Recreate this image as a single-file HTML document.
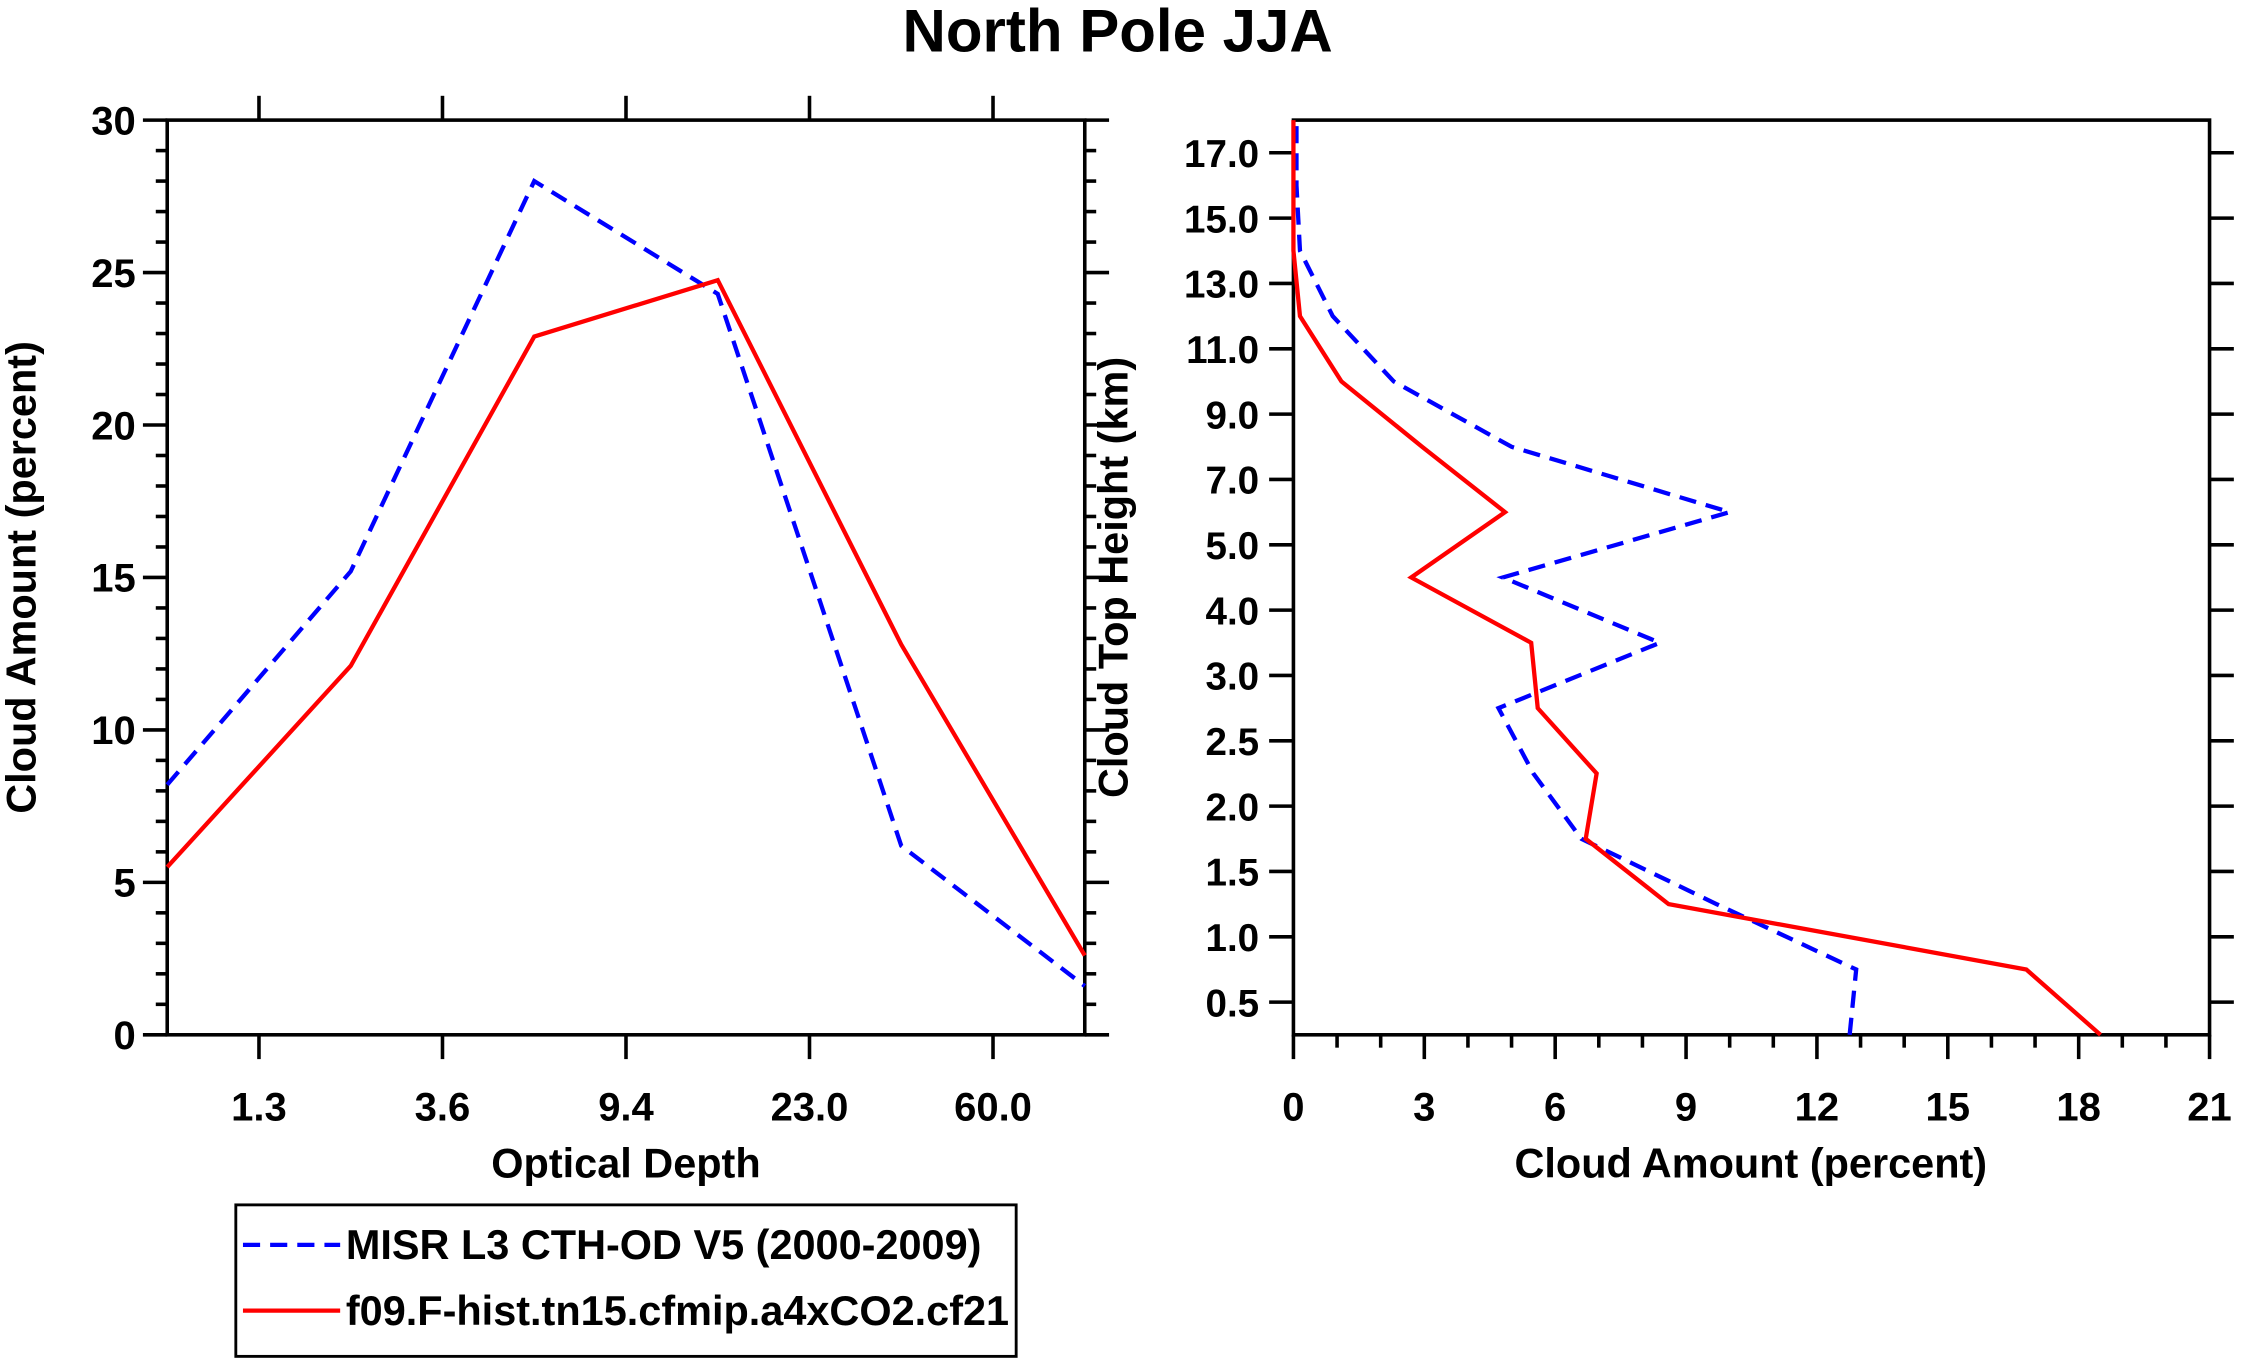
<!DOCTYPE html>
<html><head><meta charset="utf-8"><style>html,body{margin:0;padding:0;background:#fff}svg{display:block}text{font-family:"Liberation Sans",Arial,sans-serif;font-weight:bold;fill:#000}</style></head>
<body>
<svg id="chart" width="2241" height="1365" viewBox="0 0 1568 955" xmlns="http://www.w3.org/2000/svg">
<text x="782" y="36" font-size="42" text-anchor="middle">North Pole JJA</text>
<g id="left"></g><g id="right"></g>
<g>
<rect x="165" y="843" width="546" height="106" fill="none" stroke="#000" stroke-width="2"/>
<line x1="170" y1="871" x2="238" y2="871" stroke="#00f" stroke-width="3" stroke-dasharray="12,7"/>
<text x="242" y="881" font-size="29">MISR L3 CTH-OD V5 (2000-2009)</text>
<line x1="170" y1="917" x2="238" y2="917" stroke="#f00" stroke-width="3"/>
<text x="242" y="927" font-size="29">f09.F-hist.tn15.cfmip.a4xCO2.cf21</text>
</g>
</svg>
<script>
const odLabels=["1.3","3.6","9.4","23.0","60.0"];
const odMisr=[8.2,15.2,28.0,24.3,6.2,1.6];
const odModel=[5.5,12.1,22.9,24.75,12.8,2.6];
const cthLabels=["0.5","1.0","1.5","2.0","2.5","3.0","4.0","5.0","7.0","9.0","11.0","13.0","15.0","17.0"];
const cthMisr=[12.75,12.9,9.7,6.6,5.5,4.7,8.4,4.8,10.0,5.0,2.3,0.9,0.15,0.07,0.07];
const cthModel=[18.5,16.8,8.6,6.7,6.95,5.6,5.45,2.7,4.85,2.95,1.1,0.15,0,0,0];
const NS="http://www.w3.org/2000/svg";
function mk(p,t,a){const e=document.createElementNS(NS,t);for(const k in a)e.setAttribute(k,a[k]);p.appendChild(e);return e;}
function ln(p,x1,y1,x2,y2,name){const e=mk(p,'line',{x1,y1,x2,y2,stroke:'#000','stroke-width':2.5});

return e;}
function txt(p,x,y,s,name,extra){const e=mk(p,'text',Object.assign({x,y,'font-size':24,'text-anchor':'middle'},extra||{}));e.textContent=s;

return e;}
function poly(p,pts,col,dash,name){const a={points:pts.join(' '),fill:'none',stroke:col,'stroke-width':3,'stroke-linejoin':'miter'};if(dash)a['stroke-dasharray']=dash;const e=mk(p,'polyline',a);

}
// left
const L=document.getElementById('left');
const lx0=117,lx1=759,ly0=724,ly1=84;
const lX=i=>lx0+i*(lx1-lx0)/5, lY=v=>ly0-v*(ly0-ly1)/30;
mk(L,'rect',{x:lx0,y:ly1,width:lx1-lx0,height:ly0-ly1,fill:'none',stroke:'#000','stroke-width':2.5});
for(let v=0;v<=30;v++){const maj=v%5==0,len=maj?17:8,y=lY(v);
ln(L,lx0-len,y,lx0,y,'left-y-tick');ln(L,lx1,y,lx1+len,y,'left-y-tick-right');
if(maj)txt(L,lx0-22,y+10,String(v),'left-y-tick-label',{'text-anchor':'end','font-size':28});}
odLabels.forEach((s,i)=>{const x=lX(i+0.5);ln(L,x,ly1-17,x,ly1,'left-top-tick');ln(L,x,ly0,x,ly0+17,'left-x-tick');txt(L,x,784,s,'left-x-tick-label',{'font-size':28});});
txt(L,438,824,'Optical Depth','left-x-axis-title',{'font-size':29});
txt(L,0,0,'Cloud Amount (percent)','left-y-axis-title',{'font-size':29,transform:'translate(25,404) rotate(-90)'});
poly(L,odMisr.map((v,i)=>lX(i)+','+lY(v)),'#00f','12,7','misr-od-line');
poly(L,odModel.map((v,i)=>lX(i)+','+lY(v)),'#f00',null,'model-od-line');
// right
const R=document.getElementById('right');
const rx0=905,rx1=1546,ry0=724,ry1=84;
const rX=v=>rx0+v*(rx1-rx0)/21, rY=k=>ry0-k*(ry0-ry1)/14;
mk(R,'rect',{x:rx0,y:ry1,width:rx1-rx0,height:ry0-ry1,fill:'none',stroke:'#000','stroke-width':2.5});
for(let v=0;v<=21;v++){const maj=v%3==0,len=maj?17:9,x=rX(v);ln(R,x,ry0,x,ry0+len,'right-x-tick');
if(maj)txt(R,x,784,String(v),'right-x-tick-label',{'font-size':28});}
cthLabels.forEach((s,i)=>{const y=rY(i+0.5);ln(R,rx0-17,y,rx0,y,'right-y-tick');ln(R,rx1,y,rx1+17,y,'right-y-tick-right');
txt(R,rx0-24,y+10,s,'right-y-tick-label',{'text-anchor':'end','font-size':27});});
txt(R,1225,824,'Cloud Amount (percent)','right-x-axis-title',{'font-size':29});
txt(R,0,0,'Cloud Top Height (km)','right-y-axis-title',{'font-size':29,transform:'translate(789,404) rotate(-90)'});
poly(R,cthMisr.map((v,k)=>rX(v)+','+rY(k)),'#00f','12,7','misr-cth-line');
poly(R,cthModel.map((v,k)=>rX(v)+','+rY(k)),'#f00',null,'model-cth-line');
</script>
</body></html>
